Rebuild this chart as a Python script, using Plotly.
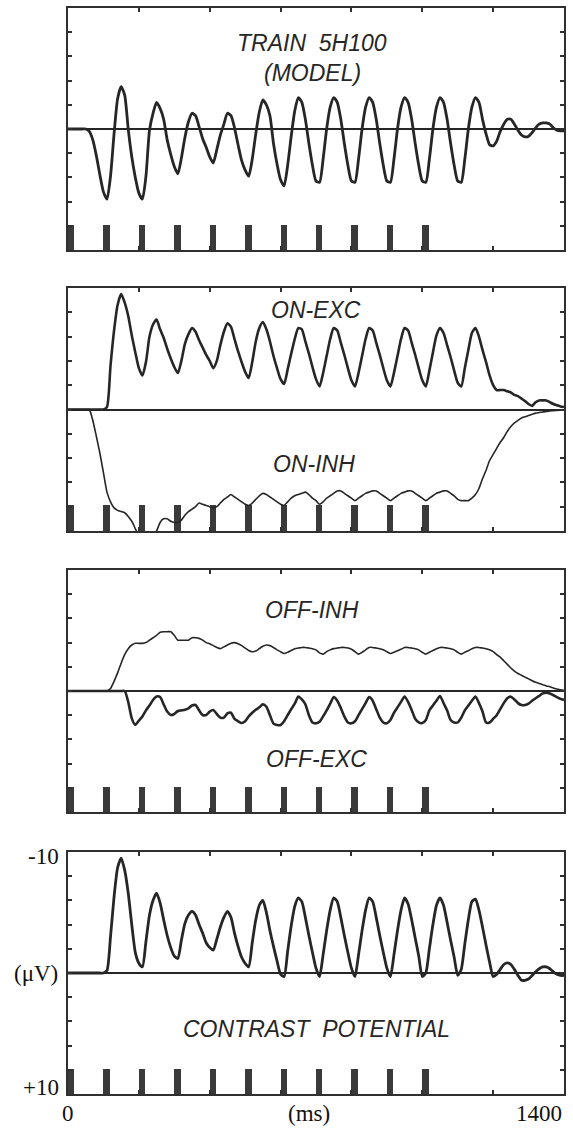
import plotly.graph_objects as go

# Sampling grid (ms) shared by every trace
time_ms = list(range(0, 1401, 10))

# Simulated potentials in microvolts (negative = upward deflection)
train_model = [
    0, 0, 0, 0, 0, 0, 0.2, 0.9, 2.2, 3.8,
    5.2, 5.8, 3.9, 0.4, -2.5, -3.5, -2.8, 0.0, 2.3, 4.0,
    5.3, 5.8, 3.9, 0.1, -1.3, -2.2, -1.7, -0.8, 0.9, 2.1,
    3.1, 3.7, 2.4, 0.7, -0.6, -1.3, -1.1, -0.2, 0.8, 1.5,
    2.3, 2.8, 1.7, 0.5, -0.4, -1.3, -1.1, -0.1, 1.3, 2.6,
    3.4, 3.9, 2.5, 0.4, -1.4, -2.4, -2.0, -1.1, 1.2, 2.9,
    4.2, 4.7, 3.0, 0.6, -1.5, -2.6, -2.2, -0.8, 1.2, 3.0,
    4.3, 4.4, 2.5, 0.0, -1.8, -2.6, -2.2, -0.8, 1.2, 3.0,
    4.3, 4.4, 2.5, 0.0, -1.8, -2.6, -2.2, -0.8, 1.2, 3.0,
    4.3, 4.4, 2.5, 0.0, -1.8, -2.6, -2.2, -0.8, 1.2, 3.0,
    4.3, 4.4, 2.5, 0.0, -1.8, -2.6, -2.2, -0.8, 1.2, 3.0,
    4.3, 4.4, 2.5, 0.0, -1.8, -2.6, -2.2, -0.8, 0.4, 1.3,
    1.4, 1.0, 0.2, -0.4, -0.8, -0.8, -0.4, 0.1, 0.5, 0.65,
    0.6, 0.3, -0.1, -0.4, -0.5, -0.5, -0.4, -0.1, 0.1, 0.15,
    0.15,
]

on_exc = [
    0, 0, 0, 0, 0, 0, 0, 0, 0, 0,
    0, -0.2, -3.6, -6.5, -8.6, -9.5, -8.8, -7.7, -6.1, -4.7,
    -3.4, -2.8, -3.9, -6.0, -7.0, -7.4, -6.6, -5.9, -5.0, -4.2,
    -3.5, -3.0, -4.0, -5.4, -6.2, -6.7, -6.4, -5.7, -5.1, -4.5,
    -4.0, -3.4, -4.0, -5.3, -6.4, -7.1, -6.8, -5.8, -4.8, -3.9,
    -3.1, -2.6, -3.9, -5.6, -6.7, -7.2, -6.6, -5.6, -4.4, -3.4,
    -2.5, -2.1, -3.3, -4.6, -5.8, -6.7, -6.6, -5.6, -4.6, -3.5,
    -2.5, -1.9, -3.0, -4.4, -5.8, -6.7, -6.5, -5.5, -4.5, -3.4,
    -2.4, -1.9, -3.0, -4.4, -5.8, -6.7, -6.5, -5.5, -4.5, -3.4,
    -2.4, -1.9, -3.0, -4.4, -5.8, -6.7, -6.5, -5.5, -4.5, -3.4,
    -2.4, -1.9, -3.2, -4.7, -6.1, -6.7, -6.3, -5.3, -4.3, -3.2,
    -2.2, -1.9, -3.4, -4.9, -6.3, -6.7, -6.0, -4.9, -3.9, -2.8,
    -2.0, -1.6, -1.6, -1.6, -1.5, -1.4, -1.2, -1.1, -0.9, -0.7,
    -0.45, -0.3, -0.6, -0.75, -0.75, -0.75, -0.6, -0.45, -0.35, -0.25,
    -0.2,
]

on_inh = [
    0, 0, 0, 0, 0, 0, 0, 0.9, 2.2, 3.6,
    5.2, 6.8, 7.6, 8.1, 8.3, 8.4, 8.5, 8.8, 9.2, 9.8,
    10.4, 10.8, 11.0, 10.8, 10.4, 10.0, 9.3, 9.0, 9.0, 9.2,
    9.3, 9.3, 9.1, 8.7, 8.4, 8.2, 8.0, 7.7, 7.8, 7.9,
    8.0, 8.1, 8.0, 7.7, 7.4, 7.2, 7.0, 7.2, 7.4, 7.6,
    7.8, 7.9, 7.7, 7.4, 7.1, 6.9, 7.0, 7.2, 7.4, 7.6,
    7.8, 7.9, 7.6, 7.3, 7.1, 7.0, 6.9, 6.8, 7.0, 7.3,
    7.5, 7.8, 7.6, 7.3, 7.1, 6.9, 6.7, 6.7, 6.9, 7.1,
    7.3, 7.5, 7.3, 7.1, 6.9, 6.8, 6.7, 6.7, 6.9, 7.1,
    7.3, 7.5, 7.3, 7.1, 6.9, 6.8, 6.7, 6.7, 6.9, 7.1,
    7.3, 7.5, 7.3, 7.1, 6.9, 6.8, 6.7, 6.7, 6.9, 7.1,
    7.4, 7.5, 7.5, 7.5, 7.3, 7.0, 6.5, 5.7, 5.0, 4.2,
    3.7, 3.2, 2.7, 2.3, 1.8, 1.4, 1.1, 0.9, 0.7, 0.6,
    0.5, 0.4, 0.3, 0.25, 0.2, 0.16, 0.12, 0.1, 0.07, 0.05,
    0.03,
]

off_inh = [
    0, 0, 0, 0, 0, 0, 0, 0, 0, 0,
    0, 0, -0.2, -0.8, -1.5, -2.3, -3.0, -3.5, -3.8, -3.94,
    -3.94, -3.94, -4.0, -4.2, -4.4, -4.6, -4.85, -4.9, -4.9, -4.9,
    -4.6, -4.2, -4.2, -4.2, -4.2, -4.4, -4.4, -4.35, -4.2, -4.0,
    -3.9, -3.75, -3.6, -3.5, -3.65, -3.8, -3.95, -4.0, -3.9, -3.75,
    -3.55, -3.35, -3.25, -3.3, -3.5, -3.7, -3.8, -3.75, -3.6, -3.4,
    -3.25, -3.1, -3.2, -3.35, -3.5, -3.55, -3.6, -3.6, -3.55, -3.5,
    -3.4, -3.15, -3.05, -3.25, -3.4, -3.5, -3.55, -3.6, -3.6, -3.55,
    -3.45, -3.25, -3.05, -3.2, -3.4, -3.6, -3.6, -3.55, -3.5, -3.4,
    -3.25, -3.1, -3.2, -3.33, -3.45, -3.6, -3.6, -3.55, -3.5, -3.4,
    -3.2, -3.05, -3.2, -3.35, -3.5, -3.6, -3.6, -3.55, -3.5, -3.4,
    -3.2, -3.05, -3.2, -3.33, -3.5, -3.6, -3.6, -3.55, -3.5, -3.4,
    -3.25, -3.0, -2.8, -2.5, -2.2, -1.9, -1.65, -1.45, -1.3, -1.15,
    -1.0, -0.85, -0.72, -0.62, -0.52, -0.42, -0.35, -0.25, -0.17, -0.1,
    -0.05,
]

off_exc = [
    0, 0, 0, 0, 0, 0, 0, 0, 0, 0,
    0, 0, 0, 0, 0, 0, 0, 0.9, 2.26, 2.8,
    2.45, 2.1, 1.6, 1.2, 0.74, 0.45, 0.5, 1.1, 1.7, 1.98,
    1.9, 1.65, 1.6, 1.55, 1.43, 1.2, 1.16, 1.6, 1.98, 1.98,
    1.7, 1.57, 1.9, 2.2, 2.2, 1.85, 1.8, 2.3, 2.5, 2.65,
    2.5, 2.1, 1.8, 1.55, 1.35, 1.1, 1.3, 2.0, 2.7, 2.81,
    2.81, 2.5, 2.0, 1.5, 1.05, 0.45, 0.7, 1.1, 2.0, 2.6,
    2.67, 2.55, 2.1, 1.6, 1.05, 0.5, 0.8, 1.4, 2.1, 2.6,
    2.67, 2.5, 2.0, 1.5, 1.0, 0.5, 0.8, 1.5, 2.2, 2.6,
    2.67, 2.4, 1.8, 1.35, 0.9, 0.45, 0.9, 1.57, 2.3, 2.6,
    2.65, 2.4, 1.6, 1.2, 0.8, 0.41, 1.0, 1.6, 2.4, 2.6,
    2.6, 2.2, 1.6, 1.2, 0.8, 0.45, 1.0, 1.7, 2.6, 2.6,
    2.3, 2.0, 1.5, 1.0, 0.6, 0.47, 0.7, 1.0, 1.16, 1.16,
    1.05, 0.8, 0.6, 0.4, 0.2, 0.14, 0.2, 0.35, 0.5, 0.65,
    0.74,
]

contrast = [
    0, 0, 0, 0, 0, 0, 0, 0, 0, 0,
    0, -0.2, -3.0, -6.3, -8.7, -9.5, -8.5, -6.6, -4.0, -1.7,
    -0.8, -0.5, -2.6, -4.8, -6.0, -6.6, -5.8, -4.4, -3.1, -2.1,
    -1.4, -1.2, -2.7, -4.1, -4.8, -5.1, -4.8, -4.0, -3.3, -2.5,
    -2.1, -1.9, -2.8, -3.8, -4.6, -5.1, -4.6, -3.3, -2.2, -1.3,
    -0.8, -0.5, -2.5, -4.4, -5.6, -6.0, -5.0, -3.5, -2.2, -1.0,
    0.1, 0.3, -1.8, -3.9, -5.5, -6.2, -5.9, -4.6, -3.1, -1.7,
    -0.4, 0.3, -1.5, -3.5, -5.2, -6.2, -5.9, -4.6, -3.1, -1.7,
    -0.4, 0.3, -1.5, -3.5, -5.2, -6.2, -5.9, -4.6, -3.1, -1.7,
    -0.4, 0.3, -1.5, -3.5, -5.2, -6.2, -5.7, -4.4, -2.9, -1.4,
    0.3, 0.0, -2.0, -4.0, -5.6, -6.2, -5.6, -4.2, -2.7, -1.3,
    0.2, -0.3, -2.4, -4.4, -5.9, -6.1, -5.2, -3.8, -2.3, -0.9,
    0.3, 0.1, -0.3, -0.7, -0.83, -0.7, -0.3, 0.2, 0.6, 0.6,
    0.5, 0.2, -0.1, -0.35, -0.5, -0.5, -0.35, -0.1, 0.1, 0.2,
    0.2,
]

# Stimulus train: flash onsets (ms), drawn as marker bars on the bottom edge
stim_onsets = [0, 100, 200, 300, 400, 500, 600, 700, 800, 900, 1000]
stim_width_ms = 18
stim_height_uv = 2.1

x_ticks = [0, 200, 400, 600, 800, 1000, 1200, 1400]
y_ticks = [-10, -8, -6, -4, -2, 0, 2, 4, 6, 8, 10]

# Each panel: curves (values, line width) and italic captions (text, ms, uV)
panels = [
    {"curves": [(train_model, 2.8)],
     "captions": [("TRAIN\u00a0 5H100", 690, -7.1), ("(MODEL)", 690, -4.6)]},
    {"curves": [(on_exc, 2.6), (on_inh, 1.6)],
     "captions": [("ON-EXC", 700, -8.2), ("ON-INH", 694, 4.5)]},
    {"curves": [(off_inh, 1.6), (off_exc, 2.6)],
     "captions": [("OFF-INH", 689, -6.7), ("OFF-EXC", 702, 5.6)]},
    {"curves": [(contrast, 2.8)],
     "captions": [("CONTRAST\u00a0 POTENTIAL", 702, 4.6)]},
]

W, H = 573, 1129
plot_left, plot_right = 68, 564
panel_px = [(8, 250), (288, 531), (570, 812), (852, 1094)]

ink = "#262626"
frame = "#303030"
stim_color = "#3a3a3a"

fig = go.Figure()
layout = {}
annotations = []

for i, (panel, (top, bottom)) in enumerate(zip(panels, panel_px), start=1):
    sx = "" if i == 1 else str(i)
    xname, yname = "x" + sx, "y" + sx

    fig.add_trace(go.Bar(
        x=[t + stim_width_ms / 2 for t in stim_onsets],
        y=[-stim_height_uv] * len(stim_onsets),
        base=10, width=stim_width_ms,
        marker=dict(color=stim_color, line=dict(width=0)),
        xaxis=xname, yaxis=yname, showlegend=False, hoverinfo="skip",
    ))
    for values, lw in panel["curves"]:
        fig.add_trace(go.Scatter(
            x=time_ms, y=values, mode="lines",
            line=dict(color=ink, width=lw, shape="spline", smoothing=0.6),
            xaxis=xname, yaxis=yname, showlegend=False,
        ))

    layout["xaxis" + sx] = dict(
        domain=[plot_left / W, plot_right / W], range=[0, 1400],
        anchor=yname, tickvals=x_ticks, showticklabels=False,
        ticks="inside", ticklen=4, tickwidth=1.5, tickcolor=frame,
        showline=True, linecolor=frame, linewidth=2, mirror="ticks",
        showgrid=False, zeroline=False, fixedrange=True,
    )
    layout["yaxis" + sx] = dict(
        domain=[1 - bottom / H, 1 - top / H], range=[10, -10],
        anchor=xname, tickvals=y_ticks, showticklabels=False,
        ticks="inside", ticklen=4, tickwidth=1.5, tickcolor=frame,
        showline=True, linecolor=frame, linewidth=2, mirror="ticks",
        showgrid=False, zeroline=True, zerolinecolor=ink, zerolinewidth=1.6,
        fixedrange=True,
    )

    for text, tx, ty in panel["captions"]:
        annotations.append(dict(
            text=text, x=tx, y=ty, xref=xname, yref=yname, showarrow=False,
            xanchor="center", yanchor="middle",
            font=dict(family="Liberation Sans", size=23, color=ink, style="italic"),
        ))

# Scale labels on the bottom panel
serif = dict(family="Liberation Serif", size=23, color="#111111")
annotations += [
    dict(text="-10", x=61 / W, y=-9.6, xref="paper", yref="y4",
         xanchor="right", yanchor="middle", showarrow=False, font=serif),
    dict(text="(\u03bcV)", x=60 / W, y=0, xref="paper", yref="y4",
         xanchor="right", yanchor="middle", showarrow=False, font=serif),
    dict(text="+10", x=61 / W, y=9.5, xref="paper", yref="y4",
         xanchor="right", yanchor="middle", showarrow=False, font=serif),
    dict(text="0", x=0, y=1 - 1113 / H, xref="x4", yref="paper",
         xanchor="center", yanchor="middle", showarrow=False, font=serif),
    dict(text="(ms)", x=680, y=1 - 1113 / H, xref="x4", yref="paper",
         xanchor="center", yanchor="middle", showarrow=False, font=serif),
    dict(text="1400", x=1400, y=1 - 1113 / H, xref="x4", yref="paper",
         xanchor="right", yanchor="middle", showarrow=False, font=serif),
]

fig.update_layout(
    width=W, height=H, margin=dict(l=0, r=0, t=0, b=0),
    paper_bgcolor="white", plot_bgcolor="white",
    bargap=0, annotations=annotations, **layout,
)

fig.write_html("out.html", config={"displayModeBar": False})
